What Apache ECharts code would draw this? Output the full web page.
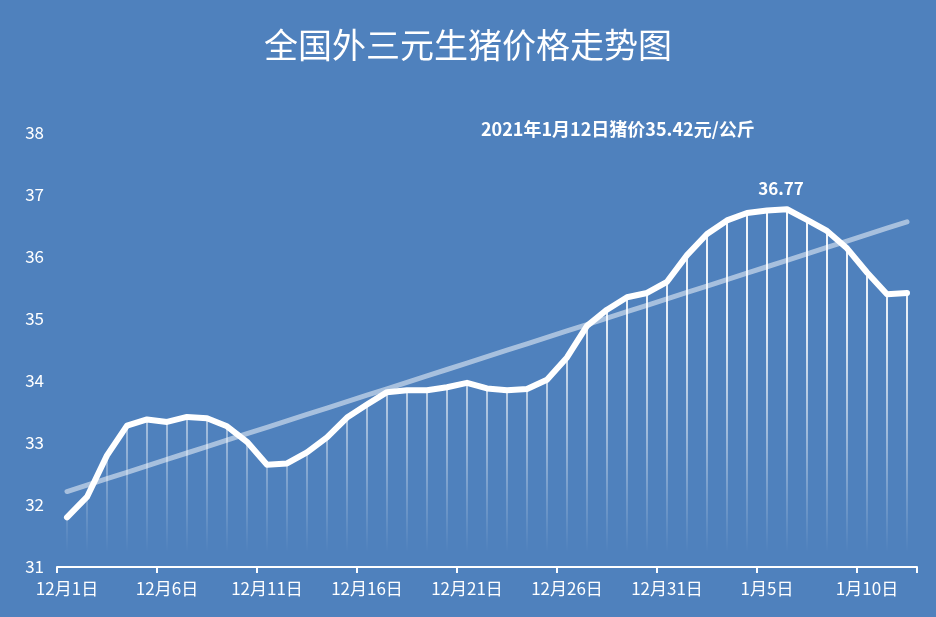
<!DOCTYPE html>
<html>
<head>
<meta charset="utf-8">
<script src="https://cdn.jsdelivr.net/npm/echarts@6/dist/echarts.min.js"></script>
<style>
html,body{margin:0;padding:0;background:#4F81BD;}
#chart{width:936px;height:617px;}
</style>
</head>
<body>
<div id="chart"></div>
<script>
const titleText = '全国外三元生猪价格走势图';
const subText = '2021年1月12日猪价35.42元/公斤';
const categories = [
  '12月1日','12月2日','12月3日','12月4日','12月5日','12月6日','12月7日','12月8日','12月9日','12月10日',
  '12月11日','12月12日','12月13日','12月14日','12月15日','12月16日','12月17日','12月18日','12月19日','12月20日',
  '12月21日','12月22日','12月23日','12月24日','12月25日','12月26日','12月27日','12月28日','12月29日','12月30日',
  '12月31日','1月1日','1月2日','1月3日','1月4日','1月5日','1月6日','1月7日','1月8日','1月9日',
  '1月10日','1月11日','1月12日'
];
const prices = [
  31.80, 32.13, 32.80, 33.28, 33.38, 33.34, 33.42, 33.40, 33.27, 33.02,
  32.65, 32.67, 32.85, 33.09, 33.41, 33.62, 33.82, 33.85, 33.85, 33.90,
  33.97, 33.88, 33.85, 33.87, 34.02, 34.38, 34.89, 35.15, 35.35, 35.42,
  35.60, 36.03, 36.37, 36.59, 36.71, 36.75, 36.77, 36.60, 36.42, 36.14,
  35.75, 35.40, 35.42
];
const yTicks = [31, 32, 33, 34, 35, 36, 37, 38];

// Linear (least-squares) trend line, as in the original chart
const n = prices.length;
const mx = (n - 1) / 2;
const my = prices.reduce((a, b) => a + b, 0) / n;
let sxy = 0, sxx = 0;
prices.forEach((v, i) => { sxy += (i - mx) * (v - my); sxx += (i - mx) * (i - mx); });
const slope = sxy / sxx;
const trend = prices.map((v, i) => +(my + slope * (i - mx)).toFixed(4));

const FONT = 'Noto Sans CJK SC';
const chart = echarts.init(document.getElementById('chart'));
chart.setOption({
  backgroundColor: '#4F81BD',
  animation: false,
  title: [
    { text: titleText, left: 'center', top: 23,
      textStyle: { color: '#fff', fontSize: 34, fontWeight: 'normal', fontFamily: FONT } },
    { text: subText, left: 476, top: 115,
      textStyle: { color: '#fff', fontSize: 18, fontWeight: 'bold', fontFamily: FONT } }
  ],
  grid: { left: 57, right: 19, top: 133, bottom: 50, containLabel: false },
  xAxis: {
    type: 'category',
    data: categories,
    boundaryGap: true,
    axisLine: { lineStyle: { color: '#fff', width: 2 } },
    axisTick: { show: true, interval: 4, length: 6, lineStyle: { color: '#fff', width: 2 } },
    axisLabel: { interval: 4, color: '#fff', fontSize: 17, margin: 13, fontFamily: FONT },
    splitLine: { show: false }
  },
  yAxis: {
    type: 'value',
    min: yTicks[0],
    max: yTicks[yTicks.length - 1],
    interval: 1,
    axisLine: { show: false },
    axisTick: { show: false },
    splitLine: { show: false },
    axisLabel: { color: '#fff', fontSize: 17, margin: 13, fontFamily: FONT }
  },
  series: [
    {
      type: 'bar',
      data: prices,
      barWidth: 2,
      z: 1,
      silent: true,
      itemStyle: {
        color: new echarts.graphic.LinearGradient(0, 133, 0, 552, [
          { offset: 0, color: 'rgba(255,255,255,1)' },
          { offset: 0.45, color: 'rgba(255,255,255,0.85)' },
          { offset: 0.75, color: 'rgba(255,255,255,0.4)' },
          { offset: 1, color: 'rgba(255,255,255,0)' }
        ], true)
      }
    },
    {
      type: 'line',
      data: trend,
      symbol: 'none',
      z: 2,
      silent: true,
      lineStyle: { color: 'rgba(255,255,255,0.5)', width: 5, cap: 'round' }
    },
    {
      type: 'line',
      data: prices,
      symbol: 'none',
      z: 3,
      lineStyle: { color: '#fff', width: 6, cap: 'round', join: 'round' },
      markPoint: {
        symbol: 'circle',
        symbolSize: 2,
        itemStyle: { color: 'rgba(255,255,255,0)' },
        data: [{ type: 'max' }],
        label: {
          show: true, position: 'top', distance: 11, offset: [-6, 0],
          formatter: p => Number(p.value).toFixed(2),
          color: '#fff', fontSize: 17, fontWeight: 'bold', fontFamily: FONT
        }
      }
    }
  ]
});
</script>
</body>
</html>
